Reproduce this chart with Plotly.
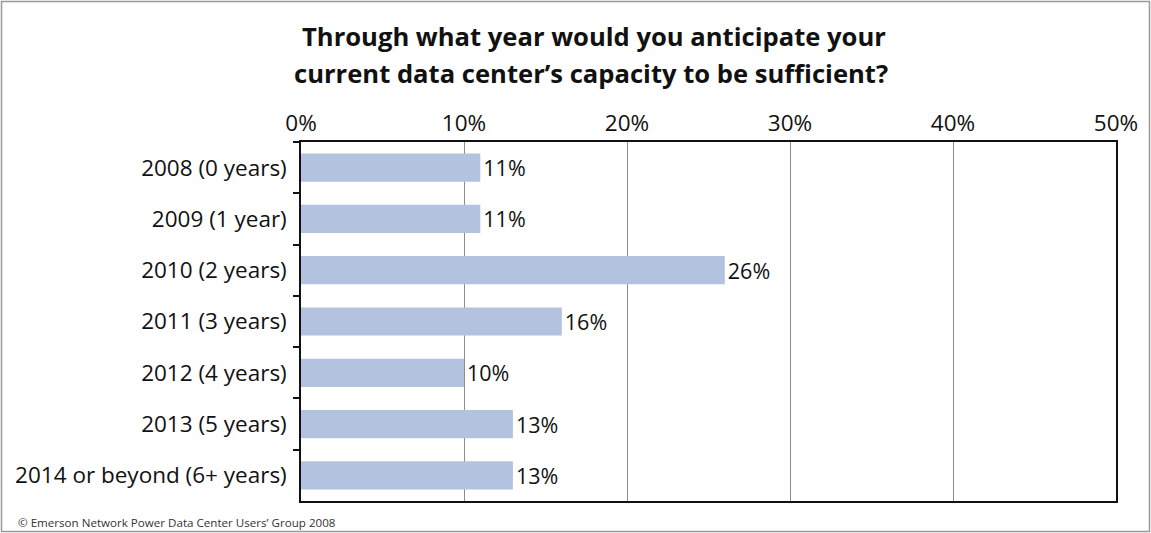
import plotly.graph_objects as go

categories = ["2008 (0 years)", "2009 (1 year)", "2010 (2 years)", "2011 (3 years)",
              "2012 (4 years)", "2013 (5 years)", "2014 or beyond (6+ years)"]
values = [11, 11, 26, 16, 10, 13, 13]
labels = ["11%", "11%", "26%", "16%", "10%", "13%", "13%"]
x_ticks = [0, 10, 20, 30, 40, 50]
x_tick_labels = ["0%", "10%", "20%", "30%", "40%", "50%"]
title_lines = ["Through what year would you anticipate your",
               "current data center’s capacity to be sufficient?"]
footnote = "© Emerson Network Power Data Center Users’ Group 2008"

W, H = 1151, 533
L, R, T, B = 301, 35, 142, 32
pw, ph = W - L - R, H - T - B

FONT = "Open Sans"
FS = 22.5

fig = go.Figure(go.Bar(
    x=values, y=categories, orientation="h",
    marker=dict(color="#b3c3df", line=dict(width=0)),
    text=labels, textposition="outside", cliponaxis=False,
    constraintext="none",
    textfont=dict(family=FONT, size=21.5, color="#111"),
    hoverinfo="skip",
))

def px_x(p):
    return (p - L) / pw

def px_y(p):
    return (H - B - p) / ph

fig.update_layout(
    width=W, height=H,
    margin=dict(l=L, r=R, t=T, b=B),
    paper_bgcolor="white", plot_bgcolor="white",
    showlegend=False,
    bargap=0.45,
    font=dict(family=FONT, size=FS, color="#111"),
    xaxis=dict(
        side="top", range=[0, 50], tickvals=x_ticks, ticktext=x_tick_labels,
        showgrid=True, gridcolor="#8c8c8c", gridwidth=1,
        showline=True, linecolor="#111", linewidth=1.5, mirror=True,
        ticks="", zeroline=False, fixedrange=True,
        tickfont=dict(family=FONT, size=FS, color="#111"),
    ),
    yaxis=dict(
        autorange="reversed", tickson="boundaries", ticks="outside",
        ticklen=6, tickcolor="#111", tickwidth=1.5,
        ticklabelstandoff=8,
        showline=True, linecolor="#111", linewidth=1.5, mirror=True,
        showgrid=False, fixedrange=True,
        tickfont=dict(family=FONT, size=FS, color="#111"),
    ),
    annotations=[
        dict(text="<b>" + title_lines[0] + "</b>",
             x=px_x(594), y=px_y(36), xref="paper", yref="paper",
             xanchor="center", yanchor="middle", showarrow=False,
             font=dict(family=FONT, size=25.6, color="#111")),
        dict(text="<b>" + title_lines[1] + "</b>",
             x=px_x(591), y=px_y(73), xref="paper", yref="paper",
             xanchor="center", yanchor="middle", showarrow=False,
             font=dict(family=FONT, size=25.6, color="#111")),
        dict(text=footnote, x=px_x(16), y=px_y(522), xref="paper", yref="paper",
             xanchor="left", yanchor="middle", showarrow=False,
             font=dict(family=FONT, size=11.6, color="#333")),
    ],
    shapes=[
        dict(type="rect", xref="paper", yref="paper",
             x0=px_x(1.5), x1=px_x(1149.5), y0=px_y(1.5), y1=px_y(531.5),
             line=dict(color="#999", width=1.5), fillcolor="rgba(0,0,0,0)", layer="below"),
    ],
)

fig.write_html("out.html")
